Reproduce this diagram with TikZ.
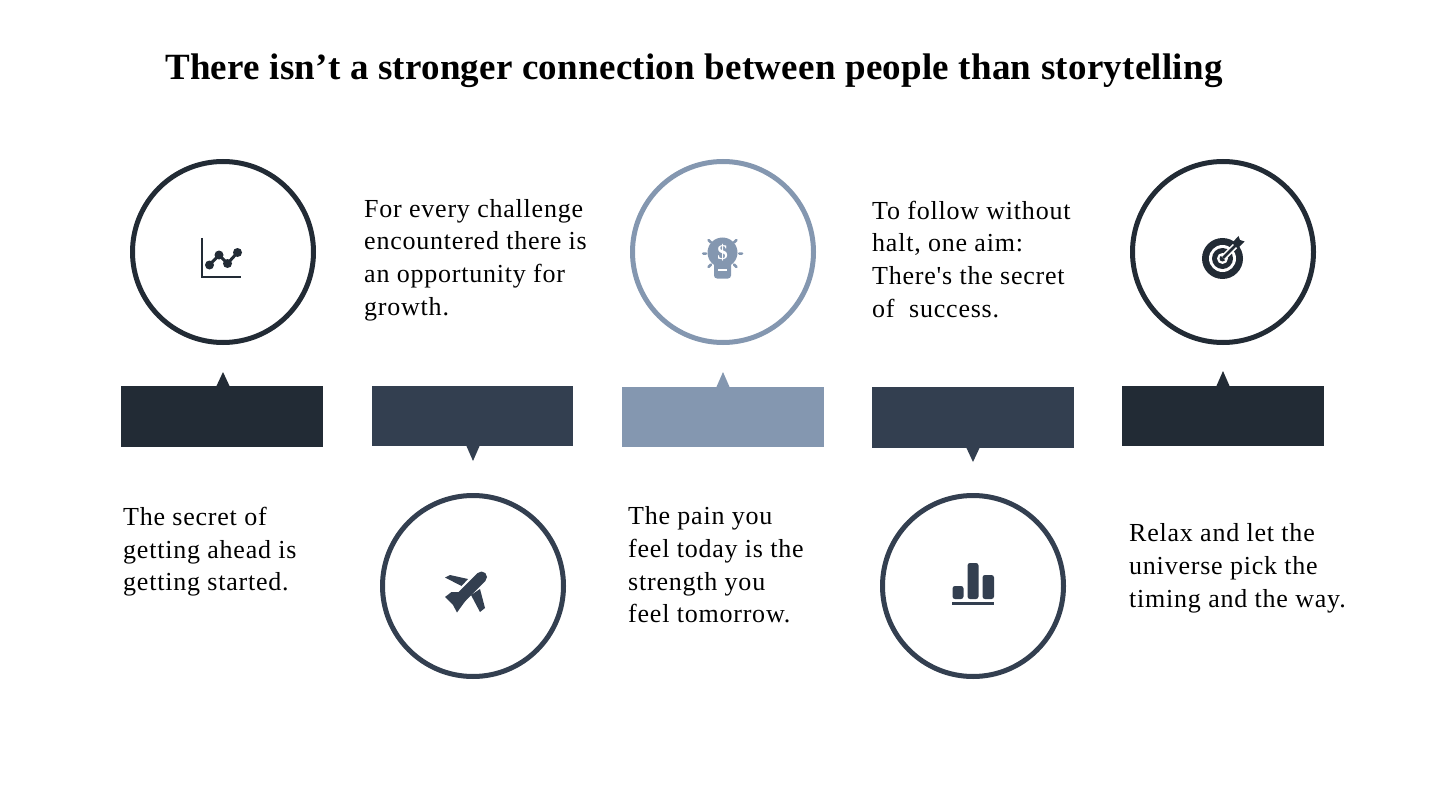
\documentclass[tikz,border=0pt]{standalone}
\usepackage{fontspec}
\setmainfont{Liberation Serif}
\newfontfamily\storyfont[LetterSpace=3]{Liberation Serif}
\newfontfamily\headfont[LetterSpace=0.7]{Liberation Serif}
\definecolor{inkdark}{HTML}{222B35}
\definecolor{navy}{HTML}{333F50}
\definecolor{steel}{HTML}{8497B0}
\tikzset{
    ring/.style={draw=#1, line width=5pt, circle, minimum size=181pt, inner sep=0pt, outer sep=0pt},
    bar/.style={fill=#1, anchor=north west, inner sep=0pt},
    story/.style={anchor=north west, inner sep=0pt, align=left, font=\storyfont\fontsize{26}{32.7}\selectfont},
}
\begin{document}
\begin{tikzpicture}[x=1pt, y=-1pt]
        \useasboundingbox (0,0) rectangle (1443,805);
        \node[anchor=base west, inner sep=0pt, font=\headfont\fontsize{37}{40}\selectfont\bfseries] (title) at (165,80) {There isn’t a stronger connection between people than storytelling};

        % circles
        \node[ring=inkdark] (circ1) at (223,252) {};
        \node[ring=navy] (circ2) at (473,586) {};
        \node[ring=steel] (circ3) at (723,252) {};
        \node[ring=navy] (circ4) at (973,586) {};
        \node[ring=inkdark] (circ5) at (1223,252) {};

        % bars
        \node[bar=inkdark, minimum width=202pt, minimum height=61pt] (bar1) at (121,386) {};
        \node[bar=navy, minimum width=201pt, minimum height=60pt] (bar2) at (372,386) {};
        \node[bar=steel, minimum width=202pt, minimum height=60pt] (bar3) at (622,387) {};
        \node[bar=navy, minimum width=202pt, minimum height=61pt] (bar4) at (872,387) {};
        \node[bar=inkdark, minimum width=202pt, minimum height=60pt] (bar5) at (1122,386) {};

        % tips
        \fill[inkdark] (216,387) -- (223,372) -- (230,387) -- cycle;
        \fill[navy] (466,445) -- (473,461) -- (480,445) -- cycle;
        \fill[steel] (716,388) -- (723,372) -- (730,388) -- cycle;
        \fill[navy] (966,447) -- (973,462) -- (980,447) -- cycle;
        \fill[inkdark] (1216,387) -- (1223,371) -- (1230,387) -- cycle;

        % texts
        \node[story] (text1) at (123,507) {The secret of\\getting ahead is\\getting started.};
        \node[story] (text2) at (364,199) {For every challenge\\encountered there is\\an opportunity for\\growth.};
        \node[story] (text3) at (628,506.5) {The pain you\\feel today is the\\strength you\\feel tomorrow.};
        \node[story] (text4) at (872,200.5) {To follow without\\halt, one aim:\\There's the secret\\of\ \ success.};
        \node[story] (text5) at (1129,523.5) {Relax and let the\\universe pick the\\timing and the way.};

        % chart icon
        \draw[inkdark, line width=2.5pt] (202,238) -- (202,277) -- (241,277);
        \draw[inkdark, line width=3pt] (209.5,265) -- (219,255) -- (227.5,263.5) -- (237.5,252.5);
        \fill[inkdark] (209.5,265) circle (4.5) (219,255) circle (4.5) (227.5,263.5) circle (4.5) (237.5,252.5) circle (4.5);

        % plane icon
        \draw[navy, line width=11pt, line cap=round] (481.5,577) -- (459,599.5);
        \fill[navy] (445,577.5) -- (450,575) -- (468,579) -- (461.5,586) -- cycle;
        \fill[navy] (471,595) -- (480,589) -- (485,608) -- (480,612) -- cycle;
        \fill[navy] (445,597) -- (451.5,592) -- (459,592) -- (466,600) -- (457,612.5) -- (453,605) -- cycle;

        % bulb icon
        \fill[steel] (722.5,252.5) circle (15);
        \fill[steel, rounded corners=3pt] (714,258) rectangle (731,278.5);
        \draw[white, line width=2pt] (718,269.5) -- (727,269.5);
        \node[white, inner sep=0pt, font=\fontsize{21}{21}\selectfont\bfseries] (dollar) at (722.5,252.5) {\$};
        \draw[steel, line width=2.5pt, line cap=round]
            (703,253.5) -- (706,253.5) (739,253.5) -- (742,253.5)
            (708.5,240) -- (711,242.5) (736.5,240) -- (734,242.5)
            (708.5,267) -- (711,264.5) (736.5,267) -- (734,264.5);

        % bars icon
        \fill[navy, rounded corners=2.5pt] (952.5,586) rectangle (963.5,599);
        \fill[navy, rounded corners=2.5pt] (967.5,563) rectangle (978.5,599);
        \fill[navy, rounded corners=2.5pt] (982.5,575) rectangle (994,599);
        \draw[navy, line width=2.5pt] (952,603.5) -- (994,603.5);

        % target icon
        \fill[inkdark] (1222.5,258.5) circle (20.5);
        \fill[white] (1222.5,258.5) circle (13.5);
        \fill[inkdark] (1222.5,258.5) circle (10.5);
        \fill[white] (1222.5,258.5) circle (5.5);
        \fill[inkdark] (1222.5,258.5) circle (3);
        \draw[white, line width=6pt] (1223,258) -- (1237,244);
        \draw[inkdark, line width=2.8pt] (1223,258) -- (1238,243);
        \fill[inkdark] (1232,243) -- (1238.5,236) -- (1240,240) -- (1244.5,241.5) -- (1237.5,248.5) -- cycle;
    \end{tikzpicture}
\end{document}
